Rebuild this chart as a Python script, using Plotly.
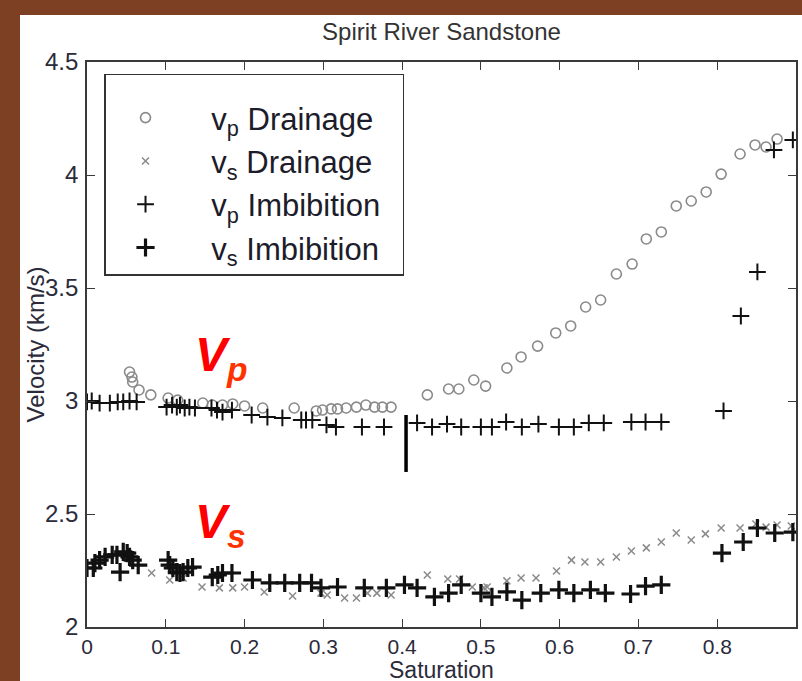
import plotly.graph_objects as go

# Saturation (fraction) and velocity (km/s) for Spirit River Sandstone
vp_drain_s = [0.054, 0.057, 0.058, 0.066, 0.081, 0.103, 0.115, 0.147, 0.159, 0.172,
              0.185, 0.200, 0.223, 0.263, 0.291, 0.299, 0.310, 0.318, 0.329, 0.342,
              0.354, 0.365, 0.375, 0.386, 0.432, 0.459, 0.472, 0.491, 0.506, 0.533,
              0.551, 0.572, 0.595, 0.614, 0.633, 0.652, 0.672, 0.692, 0.710, 0.729,
              0.748, 0.767, 0.786, 0.805, 0.829, 0.848, 0.862, 0.876]
vp_drain_v = [3.128, 3.106, 3.084, 3.049, 3.027, 3.013, 3.004, 2.991, 2.982, 2.982,
              2.987, 2.978, 2.969, 2.969, 2.956, 2.960, 2.965, 2.965, 2.969, 2.973,
              2.982, 2.973, 2.973, 2.973, 3.027, 3.053, 3.053, 3.093, 3.066, 3.146,
              3.195, 3.243, 3.301, 3.332, 3.416, 3.447, 3.562, 3.606, 3.717, 3.748,
              3.863, 3.885, 3.925, 4.004, 4.093, 4.133, 4.124, 4.159]

vs_drain_s = [0.082, 0.105, 0.122, 0.146, 0.168, 0.185, 0.200, 0.225, 0.261, 0.297,
              0.305, 0.327, 0.342, 0.356, 0.368, 0.386, 0.432, 0.458, 0.473, 0.489,
              0.504, 0.508, 0.533, 0.551, 0.570, 0.596, 0.615, 0.632, 0.652, 0.672,
              0.691, 0.710, 0.729, 0.748, 0.767, 0.785, 0.805, 0.829, 0.849, 0.862,
              0.876, 0.894]
vs_drain_v = [2.239, 2.208, 2.217, 2.177, 2.173, 2.173, 2.177, 2.155, 2.137, 2.150,
              2.142, 2.128, 2.128, 2.150, 2.150, 2.142, 2.230, 2.212, 2.212, 2.177,
              2.173, 2.177, 2.204, 2.217, 2.217, 2.248, 2.296, 2.288, 2.288, 2.310,
              2.336, 2.350, 2.376, 2.416, 2.385, 2.412, 2.438, 2.438, 2.456, 2.442,
              2.451, 2.447]

vp_imb_s = [0.000, 0.006, 0.016, 0.029, 0.039, 0.046, 0.054, 0.063, 0.101, 0.108,
            0.114, 0.118, 0.124, 0.130, 0.137, 0.158, 0.165, 0.172, 0.184, 0.209,
            0.229, 0.248, 0.272, 0.278, 0.286, 0.304, 0.316, 0.349, 0.377, 0.419,
            0.438, 0.457, 0.475, 0.500, 0.514, 0.532, 0.552, 0.573, 0.599, 0.618,
            0.637, 0.656, 0.691, 0.709, 0.729, 0.808, 0.830, 0.851, 0.872, 0.896]
vp_imb_v = [2.996, 3.000, 2.991, 2.991, 2.996, 2.996, 3.000, 2.996, 2.973, 2.982,
            2.973, 2.982, 2.969, 2.973, 2.969, 2.969, 2.960, 2.951, 2.960, 2.938,
            2.929, 2.925, 2.916, 2.916, 2.916, 2.894, 2.885, 2.885, 2.885, 2.903,
            2.885, 2.898, 2.885, 2.885, 2.885, 2.907, 2.885, 2.898, 2.885, 2.885,
            2.903, 2.903, 2.907, 2.907, 2.907, 2.956, 3.376, 3.571, 4.111, 4.155]

vs_imb_s = [0.000, 0.008, 0.010, 0.016, 0.023, 0.032, 0.038, 0.042, 0.046, 0.051,
            0.054, 0.058, 0.065, 0.103, 0.105, 0.109, 0.114, 0.118, 0.122, 0.128,
            0.134, 0.159, 0.166, 0.172, 0.184, 0.210, 0.232, 0.251, 0.270, 0.285,
            0.297, 0.318, 0.352, 0.380, 0.403, 0.419, 0.441, 0.459, 0.475, 0.500,
            0.514, 0.533, 0.552, 0.576, 0.599, 0.618, 0.639, 0.658, 0.690, 0.709,
            0.729, 0.806, 0.833, 0.851, 0.873, 0.896]
vs_imb_v = [2.261, 2.261, 2.283, 2.296, 2.310, 2.319, 2.319, 2.243, 2.332, 2.327,
            2.310, 2.296, 2.274, 2.296, 2.274, 2.261, 2.243, 2.239, 2.243, 2.261,
            2.265, 2.221, 2.230, 2.239, 2.239, 2.208, 2.195, 2.195, 2.195, 2.195,
            2.173, 2.177, 2.173, 2.173, 2.186, 2.173, 2.133, 2.150, 2.186, 2.150,
            2.133, 2.155, 2.119, 2.150, 2.164, 2.150, 2.164, 2.150, 2.146, 2.181,
            2.186, 2.327, 2.376, 2.438, 2.416, 2.420]

# vertical spread bar near 40% saturation
bar_s = [0.405, 0.405]
bar_v = [2.686, 2.938]

x_ticks = [0, 0.1, 0.2, 0.3, 0.4, 0.5, 0.6, 0.7, 0.8]
x_tick_text = ["0", "0.1", "0.2", "0.3", "0.4", "0.5", "0.6", "0.7", "0.8"]
y_ticks = [2, 2.5, 3, 3.5, 4, 4.5]
y_tick_text = ["2", "2.5", "3", "3.5", "4", "4.5"]

FONT = "Liberation Sans, Arial, sans-serif"
AXIS_COLOR = "#3a3a3a"
TEXT_COLOR = "#2b2b3a"
PAD = "\u00a0\u00a0\u00a0"
TAIL = "\u00a0\u00a0"

fig = go.Figure()

fig.add_trace(go.Scatter(
    x=vp_drain_s, y=vp_drain_v, mode="markers", name=PAD + "v<sub>p</sub> Drainage" + TAIL,
    marker=dict(symbol="circle-open", size=10, color="#8a8a8a", line=dict(width=1.6, color="#8a8a8a")),
))
fig.add_trace(go.Scatter(
    x=vs_drain_s, y=vs_drain_v, mode="markers", name=PAD + "v<sub>s</sub> Drainage" + TAIL,
    marker=dict(symbol="x-thin", size=7, color="#8a8a8a", line=dict(width=1.5, color="#8a8a8a")),
))
fig.add_trace(go.Scatter(
    x=vp_imb_s, y=vp_imb_v, mode="markers", name=PAD + "v<sub>p</sub> Imbibition" + TAIL,
    marker=dict(symbol="cross-thin", size=12, color="#111", line=dict(width=2, color="#111")),
))
fig.add_trace(go.Scatter(
    x=vs_imb_s, y=vs_imb_v, mode="markers", name=PAD + "v<sub>s</sub> Imbibition" + TAIL,
    marker=dict(symbol="cross-thin", size=13, color="#111", line=dict(width=3.2, color="#111")),
))
fig.add_trace(go.Scatter(
    x=bar_s, y=bar_v, mode="lines", showlegend=False,
    line=dict(color="#000", width=3.5),
))

# red wave-type labels
fig.add_annotation(x=0.135, y=3.19, xref="x", yref="y", xanchor="left", yanchor="middle",
                   text="<b><i>V<sub><span style='color:#ff3300'>p</span></sub></i></b>",
                   showarrow=False, font=dict(family=FONT, size=48, color="#ff0000"))
fig.add_annotation(x=0.135, y=2.45, xref="x", yref="y", xanchor="left", yanchor="middle",
                   text="<b><i>V<sub><span style='color:#ff3300'>s</span></sub></i></b>",
                   showarrow=False, font=dict(family=FONT, size=48, color="#ff0000"))

# axis titles
fig.add_annotation(x=-0.072, y=0.5, xref="paper", yref="paper", xanchor="center", yanchor="middle",
                   text="Velocity (km/s)", textangle=-90, showarrow=False,
                   font=dict(family=FONT, size=24, color=TEXT_COLOR))
fig.add_annotation(x=0.5, y=-0.0755, xref="paper", yref="paper", xanchor="center", yanchor="middle",
                   text="Saturation", showarrow=False,
                   font=dict(family=FONT, size=23, color=TEXT_COLOR))

# white slide panel over the brown backdrop
fig.add_shape(type="rect", xref="paper", yref="paper", x0=-0.0945, x1=1.01, y0=-0.1, y1=1.083,
              fillcolor="white", line=dict(width=0), layer="below")

axis_common = dict(
    showgrid=False, zeroline=False, showline=True, linecolor=AXIS_COLOR, linewidth=1.6,
    mirror="ticks", ticks="inside", ticklen=8, tickwidth=1.4, tickcolor=AXIS_COLOR,
)

fig.update_layout(
    width=802, height=681,
    margin=dict(l=87, r=4, t=62, b=54),
    paper_bgcolor="#7e4022",
    plot_bgcolor="white",
    title=dict(text="Spirit River Sandstone", x=0.5, xref="paper", y=1 - 32 / 681, yanchor="middle",
               font=dict(family=FONT, size=24, color="#333")),
    xaxis=dict(range=[0, 0.9], tickvals=x_ticks, ticktext=x_tick_text, ticklabelstandoff=0,
               tickfont=dict(family=FONT, size=21, color=TEXT_COLOR), **axis_common),
    yaxis=dict(range=[2, 4.5], tickvals=y_ticks, ticktext=y_tick_text, ticklabelstandoff=2,
               tickfont=dict(family=FONT, size=24, color=TEXT_COLOR), **axis_common),
    legend=dict(x=0.024, y=0.979, xanchor="left", yanchor="top", bgcolor="white",
                bordercolor="#333", borderwidth=1.5, itemwidth=70,
                title=dict(text="\u00a0", font=dict(family=FONT, size=12)),
                font=dict(family=FONT, size=31, color="#1c1c2a")),
    showlegend=True,
)

fig.write_html("out.html")
